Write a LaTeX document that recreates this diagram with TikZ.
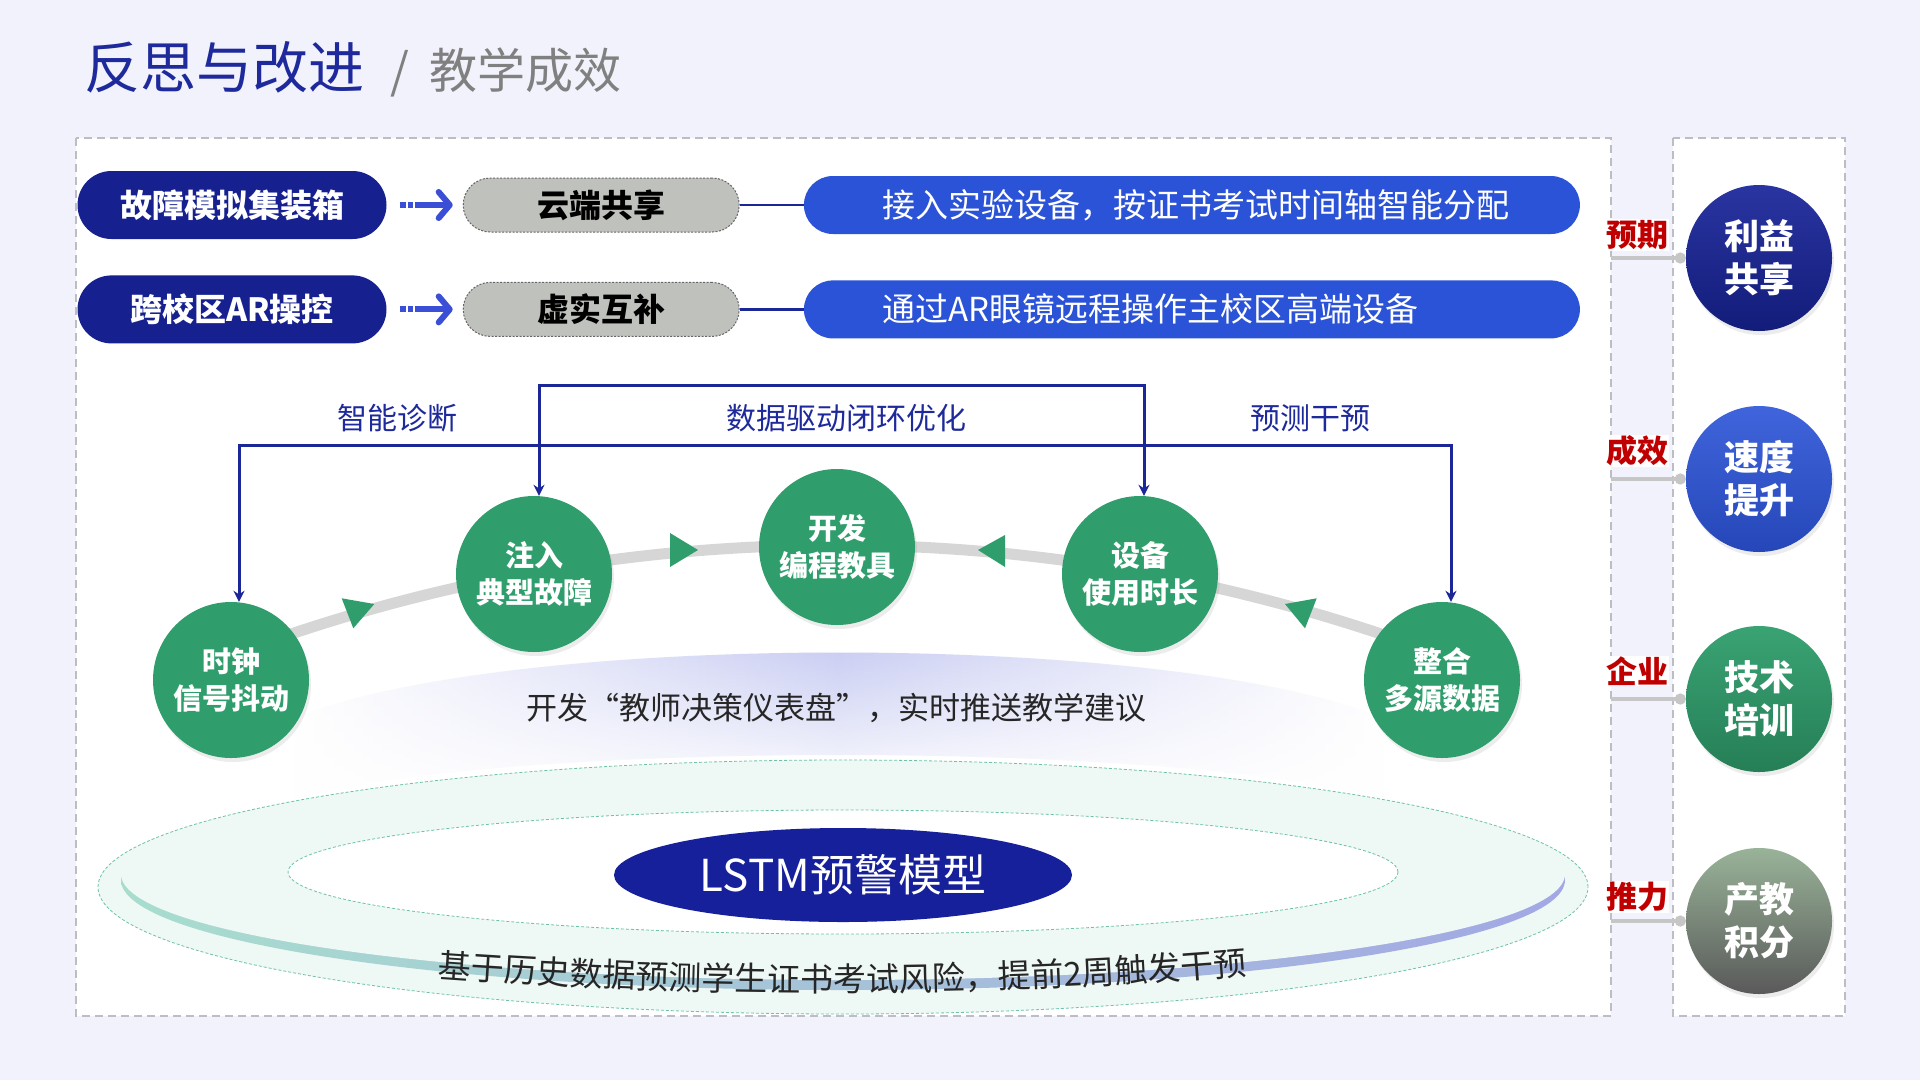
\documentclass[tikz,border=0pt]{standalone}
\usepackage{fontspec}
\setmainfont{Noto Sans CJK SC}
\usepackage{tikz}
\usetikzlibrary{positioning, arrows.meta, calc, shapes.geometric, decorations.text, fadings, shadows}

\definecolor{pagebg}{HTML}{F2F2FC}
\definecolor{deepnavy}{HTML}{16218F}
\definecolor{linknavy}{HTML}{1B2796}
\definecolor{titleblue}{HTML}{1E2A9C}
\definecolor{royal}{HTML}{2B53D8}
\definecolor{stone}{HTML}{BFC1BC}
\definecolor{leaf}{HTML}{2F9E6C}
\definecolor{arrowblue}{HTML}{3A4FD6}
\definecolor{lilac}{HTML}{C3C7F1}
\definecolor{mist}{HTML}{EEF8F5}
\definecolor{rimteal}{HTML}{A8DDCE}
\definecolor{rimblue}{HTML}{A3A8E4}
\definecolor{ringline}{HTML}{6CC3A8}
\definecolor{alert}{HTML}{C00000}
\definecolor{framegray}{HTML}{BDBDC4}
\definecolor{trackgray}{HTML}{D6D6D6}
\definecolor{lstmblue}{HTML}{16209A}

\begin{document}
\begin{tikzpicture}[x=1pt, y=1pt,
    frame/.style={draw=framegray, fill=white, line width=1.5pt, dash pattern=on 8pt off 5pt},
    pilldark/.style={rectangle, fill=deepnavy, text=white, rounded corners=34pt, minimum width=309pt, minimum height=68pt, font=\fontsize{32}{36}\selectfont\bfseries},
    pillgray/.style={rectangle, fill=stone, draw=gray!80!black, line width=1pt, dash pattern=on 2pt off 1.5pt, rounded corners=27pt, minimum width=276pt, minimum height=54pt, font=\fontsize{32}{36}\selectfont\bfseries},
    pillblue/.style={rectangle, fill=royal, text=white, rounded corners=29pt, minimum height=58pt, inner xsep=79pt, text width=618pt, align=left, font=\fontsize{33}{36}\selectfont},
    stage/.style={circle, fill=leaf, text=white, minimum size=156pt, inner sep=0pt, align=center, font=\fontsize{29}{37}\selectfont\bfseries, drop shadow={opacity=0.15, shadow xshift=2pt, shadow yshift=-4pt}},
    goal/.style={circle, minimum size=146pt, inner sep=0pt, align=center, text=white, font=\fontsize{35}{43}\selectfont\bfseries, drop shadow={opacity=0.15, shadow xshift=2pt, shadow yshift=-4pt}},
    flag/.style={fill=white, text=alert, inner sep=1pt, font=\fontsize{31}{34}\selectfont\bfseries},
    tag/.style={text=titleblue, font=\fontsize{30}{34}\selectfont},
    arr/.style={{Stealth[length=11pt, width=11pt]}-{Stealth[length=11pt, width=11pt]}, line width=3pt, draw=linknavy},
    dotarr/.style={-{Straight Barb[length=11pt, width=26pt, round]}, line width=6pt, draw=arrowblue, dash pattern=on 6pt off 2pt on 5pt off 2pt on 100pt, shorten <=13pt, shorten >=10pt},
    link/.style={line width=2.5pt, draw=linknavy},
    spoke/.style={-{Circle[length=11pt]}, line width=4pt, draw=gray!45},
    track/.style={line width=11pt, draw=trackgray},
    tick/.style={fill=leaf}
]
\useasboundingbox (0,0) rectangle (1920,-1080);
\fill[pagebg] (0,0) rectangle (1920,-1080);

\node[anchor=west, inner sep=0pt, text=titleblue, font=\fontsize{56}{60}\selectfont] (title) at (84,-67) {反思与改进};
\node[anchor=base west, inner sep=0pt, text=gray, font=\fontsize{48}{52}\selectfont] (subtitle) at ($(title.base east)+(26,0)$) {/\hspace{20pt}教学成效};

\draw[frame] (76,-138) rectangle (1611,-1016);
\draw[frame] (1673,-138) rectangle (1845,-1016);

% dashboard band and LSTM disk
\shade[left color=white, right color=white, middle color=lilac, path fading=south] (290,-720) .. controls (500,-630) and (1180,-630) .. (1390,-720) -- (1390,-800) .. controls (1180,-740) and (500,-740) .. (290,-800) -- cycle;
\node[text=black!85, font=\fontsize{31}{34}\selectfont] (advice) at (836,-708) {开发“教师决策仪表盘”，实时推送教学建议};

\filldraw[fill=mist, draw=ringline, line width=0.8pt, densely dashed] (843,-887) ellipse [x radius=745, y radius=127];
\shade[left color=rimteal, middle color=mist, right color=rimblue] (843,-880) ellipse [x radius=722, y radius=110];
\fill[mist] (843,-874) ellipse [x radius=722, y radius=106];
\filldraw[fill=white, draw=ringline, line width=0.8pt, densely dashed] (843,-872) ellipse [x radius=555, y radius=62];
\node[ellipse, fill=lstmblue, text=white, minimum width=458pt, minimum height=94pt, font=\fontsize{44}{48}\selectfont] (lstm) at (843,-875) {LSTM预警模型};
\path[decorate, decoration={text along path, text align=center, text color=black!85, text={|\fontsize{33}{36}\selectfont|基于历史数据预测学生证书考试风险，提前2周触发干预}}] (430,-977) .. controls (700,-997) and (985,-997) .. (1255,-974);

% loop track
\coordinate (hub) at (836,-2260);
\draw[track] (hub) ++(110.7:1715) arc[start angle=110.7, end angle=69.3, radius=1715];
\fill[tick] (341.7,-598.3) -- (374.3,-604) -- (353.3,-628.3) -- cycle;
\fill[tick] (670,-533) -- (698,-550) -- (670,-567) -- cycle;
\fill[tick] (1005,-535) -- (978,-550) -- (1005,-567) -- cycle;
\fill[tick] (1285,-604) -- (1316.7,-598.3) -- (1305,-628.3) -- cycle;

\node[stage] (clk) at (231,-680) {时钟\\信号抖动};
\node[stage] (inj) at (534,-574) {注入\\典型故障};
\node[stage] (kit) at (837,-547) {开发\\编程教具};
\node[stage] (use) at (1140,-574) {设备\\使用时长};
\node[stage] (mul) at (1442,-680) {整合\\多源数据};

\coordinate (railout) at (0,-445);
\coordinate (railin) at (0,-385);
\draw[arr] ([xshift=8pt]clk.north) -- ([xshift=8pt]clk.north |- railout) -| ([xshift=9pt]mul.north);
\draw[arr] ([xshift=5pt]inj.north) -- ([xshift=5pt]inj.north |- railin) -| ([xshift=4pt]use.north);

\node[tag] (diag) at (397,-418) {智能诊断};
\node[tag] (loop) at (846,-418) {数据驱动闭环优化};
\node[tag] (pred) at (1310,-418) {预测干预};

% sharing rows
\node[pilldark] (fault) at (232,-205) {故障模拟集装箱};
\node[pillgray, right=76pt of fault] (cloud) {云端共享};
\node[pillblue, right=64pt of cloud] (alloc) {接入实验设备，按证书考试时间轴智能分配};
\node[pilldark, below=36pt of fault] (arctl) {跨校区AR操控};
\node[pillgray, right=76pt of arctl] (mix) {虚实互补};
\node[pillblue, right=64pt of mix] (remote) {通过AR眼镜远程操作主校区高端设备};

\draw[dotarr] (fault) -- (cloud);
\draw[dotarr] (arctl) -- (mix);
\draw[link] (cloud) -- (alloc);
\draw[link] (mix) -- (remote);

% outcomes
\coordinate (edge) at (1611,0);
\node[goal, top color=titleblue!95!white, bottom color=deepnavy!85!black] (share) at (1759,-258) {利益\\共享};
\node[goal, top color=royal!90!white, bottom color=royal!85!black] (speed) at (1759,-479) {速度\\提升};
\node[goal, top color=leaf!95!white, bottom color=leaf!80!black] (train) at (1759,-699) {技术\\培训};
\node[goal, top color=gray!85!green!70, bottom color=gray!70!black] (credit) at (1759,-921) {产教\\积分};

\draw[spoke] (edge |- share.west) -- (share.west);
\draw[spoke] (edge |- speed.west) -- (speed.west);
\draw[spoke] (edge |- train.west) -- (train.west);
\draw[spoke] (edge |- credit.west) -- (credit.west);

\node[flag] (f1) at ($(edge |- share.west)+(26,23)$) {预期};
\node[flag] (f2) at ($(edge |- speed.west)+(26,28)$) {成效};
\node[flag] (f3) at ($(edge |- train.west)+(26,28)$) {企业};
\node[flag] (f4) at ($(edge |- credit.west)+(26,24)$) {推力};
\end{tikzpicture}
\end{document}
